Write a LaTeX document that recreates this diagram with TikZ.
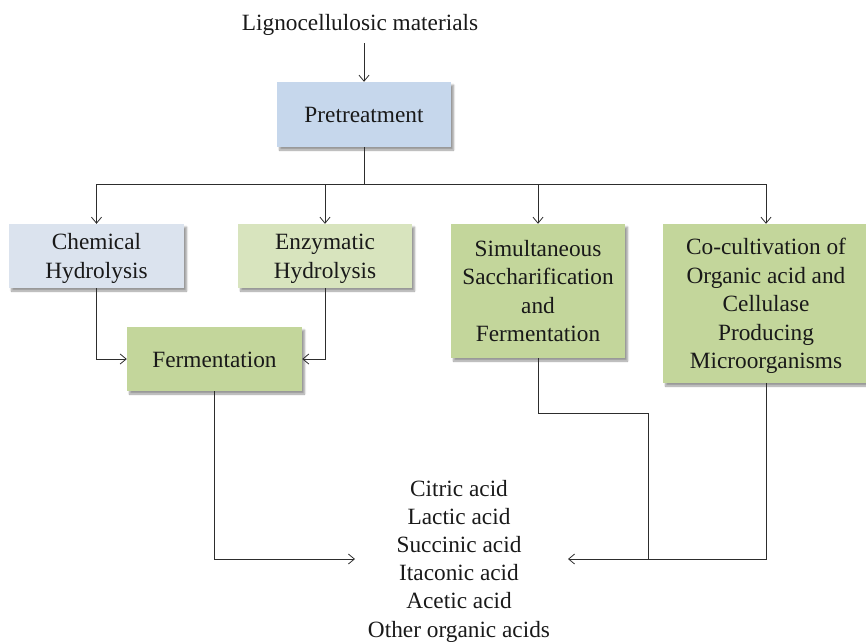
\documentclass[tikz,border=0pt]{standalone}
\usepackage{fontspec}
\setmainfont{Liberation Serif}
\usetikzlibrary{arrows.meta,shadows.blur,positioning}
\definecolor{preblue}{RGB}{198,215,236}
\definecolor{chemblue}{RGB}{219,227,238}
\definecolor{enzgreen}{RGB}{216,228,190}
\definecolor{boxgreen}{RGB}{195,214,155}
\definecolor{linegray}{RGB}{45,45,45}
\newcommand{\lowtxt}[1]{\raisebox{-2.5pt}[\height][\depth]{\begin{tabular}{@{}c@{}}#1\end{tabular}}}
\begin{document}
\begin{tikzpicture}[x=1pt,y=-1pt,
  box/.style={draw=none, inner sep=0pt,
    font=\fontsize{23.3}{28.5}\selectfont, text=black!90,
    blur shadow={shadow xshift=2.5pt, shadow yshift=-3pt, shadow blur steps=6, shadow opacity=40}},
  lbl/.style={inner sep=0pt, align=center, font=\fontsize{23.3}{28.2}\selectfont, text=black!90},
  conn/.style={draw=linegray, line width=0.9pt},
  arr/.style={conn, -{Straight Barb[length=6pt,width=10pt,line width=0.8pt]}}
]
\useasboundingbox (0,0) rectangle (866,641);

\node[lbl] (lig) at (360,24.5) {Lignocellulosic materials};
\node[box, fill=preblue, minimum width=174pt, minimum height=65pt] (pre) at (364,114.5) {\lowtxt{Pretreatment}};
\node[box, fill=chemblue, minimum width=175pt, minimum height=64pt] (chem) at (96.5,256) {\lowtxt{Chemical\\Hydrolysis}};
\node[box, fill=enzgreen, minimum width=174pt, minimum height=64pt] (enz) at (325,256) {\lowtxt{Enzymatic\\Hydrolysis}};
\node[box, fill=boxgreen, minimum width=175pt, minimum height=64pt] (ferm) at (214.5,359) {\lowtxt{Fermentation}};
\node[box, fill=boxgreen, minimum width=174pt, minimum height=134pt] (ssf) at (538,291) {\lowtxt{Simultaneous\\Saccharification\\and\\Fermentation}};
\node[box, fill=boxgreen, minimum width=206pt, minimum height=159pt] (cocu) at (766,303.5) {\lowtxt{Co-cultivation of\\Organic acid and\\Cellulase\\Producing\\Microorganisms}};
\node[lbl] (acids) at (459,561) {Citric acid\\Lactic acid\\Succinic acid\\Itaconic acid\\Acetic acid\\Other organic acids};

\coordinate (tipL) at (355,559);
\coordinate (tipR) at (568,559);

\draw[arr, shorten <=8pt] (lig.south -| pre.north) -- (pre.north);
\draw[arr] (pre.south) -- ++(0,37) -| (chem.north);
\draw[arr] (pre.south) -- ++(0,37) -| (enz.north);
\draw[arr] (pre.south) -- ++(0,37) -| (ssf.north);
\draw[arr] (pre.south) -- ++(0,37) -| (cocu.north);

\draw[arr] (chem.south) |- (ferm.west);
\draw[arr] (enz.south) |- (ferm.east);

\draw[arr] (ferm.south) |- (tipL);
\draw[conn] (ssf.south) -- ++(0,55) -| (tipR -| 648,0);
\draw[arr] (cocu.south) |- (tipR);
\end{tikzpicture}
\end{document}
